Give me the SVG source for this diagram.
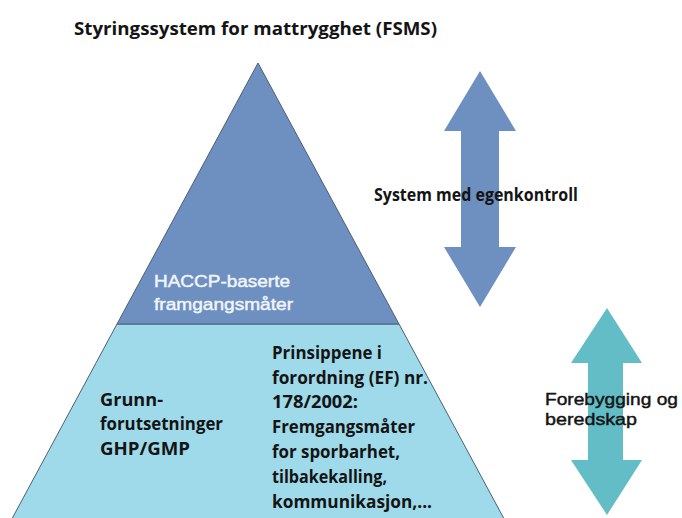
<svg xmlns="http://www.w3.org/2000/svg" width="682" height="518" viewBox="0 0 682 518">
<style>
.b{font-family:"Open Sans","Liberation Sans",sans-serif;font-weight:bold;font-size:17px;fill:#141414}
.r{font-family:"Liberation Sans",Arial,sans-serif;font-size:17px;stroke-width:0.45}
.w{fill:#F2F5FA;stroke:#F2F5FA}
.k{fill:#141414;stroke:#141414}
.edge{stroke:#4E5E74;stroke-width:1}
</style>
<rect width="682" height="518" fill="#FFFFFF"/>
<g id="title">
<text class="b" x="74" y="35" textLength="363" lengthAdjust="spacingAndGlyphs">Styringssystem for mattrygghet (FSMS)</text>
</g>
<g id="tier-base">
<polygon points="117,324 399,324 509,528 7,528" fill="#9FDAEA" class="edge"/>
<text class="b" x="100" y="406" textLength="63" lengthAdjust="spacingAndGlyphs">Grunn-</text>
<text class="b" x="100" y="430" textLength="123" lengthAdjust="spacingAndGlyphs">forutsetninger</text>
<text class="b" x="100" y="455" textLength="90" lengthAdjust="spacingAndGlyphs">GHP/GMP</text>
<text class="b" x="272" y="359" textLength="110" lengthAdjust="spacingAndGlyphs">Prinsippene i</text>
<text class="b" x="272" y="384" textLength="156" lengthAdjust="spacingAndGlyphs">forordning (EF) nr.</text>
<text class="b" x="272" y="408" textLength="86" lengthAdjust="spacingAndGlyphs">178/2002:</text>
<text class="b" x="272" y="433" textLength="143" lengthAdjust="spacingAndGlyphs">Fremgangsmåter</text>
<text class="b" x="272" y="458" textLength="128" lengthAdjust="spacingAndGlyphs">for sporbarhet,</text>
<text class="b" x="272" y="483" textLength="115" lengthAdjust="spacingAndGlyphs">tilbakekalling,</text>
<text class="b" x="272" y="508" textLength="160" lengthAdjust="spacingAndGlyphs">kommunikasjon,...</text>
</g>
<g id="tier-haccp">
<polygon points="258,63 399,324 117,324" fill="#6E90C0" class="edge"/>
<text class="r w" x="154" y="287" textLength="136" lengthAdjust="spacingAndGlyphs">HACCP-baserte</text>
<text class="r w" x="154" y="310" textLength="139" lengthAdjust="spacingAndGlyphs">framgangsmåter</text>
</g>
<g id="arrow-egenkontroll">
<polygon points="480,71 516,131 499,131 499,247 516,247 480,307 444,247 461,247 461,131 444,131" fill="#6E90C0"/>
<text class="b" x="374" y="201" textLength="204" lengthAdjust="spacingAndGlyphs">System med egenkontroll</text>
</g>
<g id="arrow-beredskap">
<polygon points="607,308 642,363 623,363 623,460 642,460 607,515 571,460 588,460 588,363 571,363" fill="#63BDC6"/>
<text class="r k" x="545" y="405" font-size="16" textLength="133" lengthAdjust="spacingAndGlyphs">Forebygging og</text>
<text class="r k" x="545" y="425" font-size="16" textLength="92" lengthAdjust="spacingAndGlyphs">beredskap</text>
</g>
<g id="connectors"/>
</svg>
